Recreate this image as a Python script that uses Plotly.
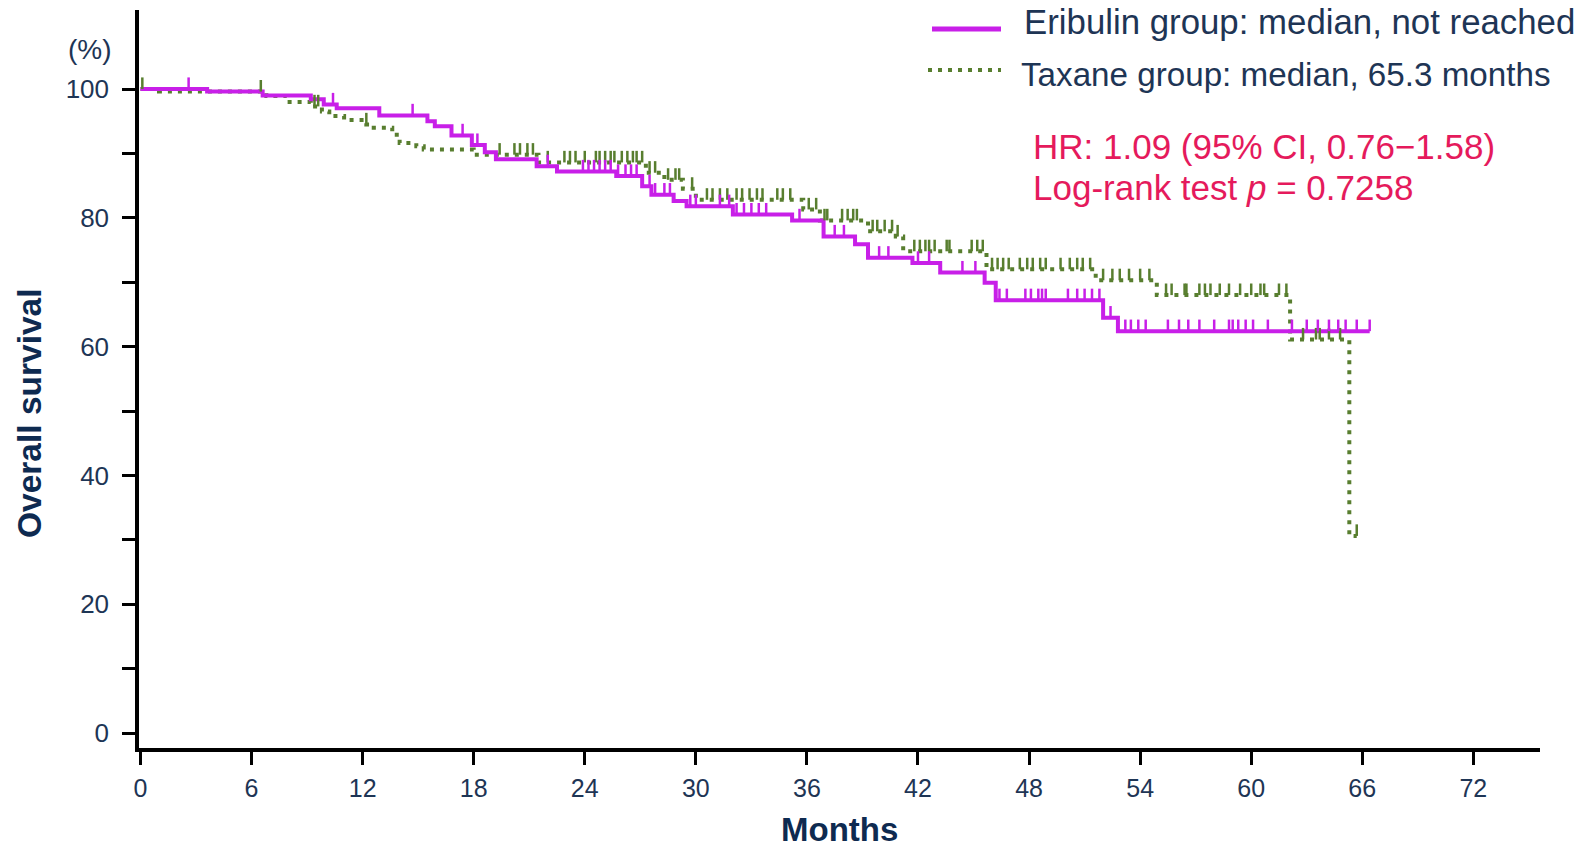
import numpy as np
import plotly.graph_objects as go

# Kaplan-Meier step estimates (months, % surviving after each event)
eri_times = [0, 3.6, 6.6, 9.2, 9.9, 10.6, 12.9, 15.5, 15.9, 16.8, 17.9, 18.6, 19.2,
             21.4, 22.5, 25.7, 27.1, 27.6, 28.8, 29.5, 32.0, 35.2, 36.9, 38.6, 39.3,
             41.7, 43.2, 45.6, 46.2, 52.0, 52.8]
eri_surv = [100, 99.6, 99.0, 98.4, 97.6, 97.0, 95.9, 95.0, 94.2, 92.8, 91.3, 90.2, 89.1,
            88.0, 87.2, 86.5, 84.9, 83.6, 82.6, 81.8, 80.5, 79.6, 77.1, 75.9, 73.8,
            73.0, 71.5, 69.9, 67.2, 64.5, 62.4]
eri_end = 66.4

tax_times = [0, 1.0, 6.8, 7.9, 9.2, 9.8, 10.2, 11.0, 12.2, 12.6, 13.6, 14.0, 14.9, 15.3,
             18.0, 21.5, 27.3, 28.3, 29.3, 30.0, 35.8, 36.7, 39.3, 40.8, 41.2, 45.7,
             51.6, 54.9, 62.1, 65.3]
tax_surv = [100, 99.6, 98.9, 98.0, 97.3, 96.5, 95.8, 95.2, 94.5, 94.0, 92.9, 91.6, 91.1, 90.6,
            89.8, 88.6, 87.0, 85.9, 84.5, 82.8, 81.3, 79.6, 77.9, 77.1, 74.8, 72.0,
            70.3, 68.0, 61.1, 30.6]
tax_end = 65.7

# Censoring times (months)
eri_censor = [2.6, 10.4, 14.7, 17.4, 18.2, 22.0, 23.9, 24.2, 24.5, 24.8, 25.1, 25.4, 25.8,
              26.2, 26.5, 26.8, 27.5, 27.8, 28.3, 28.6, 29.7, 30.0, 31.3, 31.8, 32.2, 32.6,
              33.0, 33.4, 33.8, 35.6, 37.5, 38.0, 39.9, 40.4, 42.0, 42.6, 44.4, 45.1, 46.4,
              46.8, 47.8, 48.1, 48.5, 48.7, 48.9, 50.1, 50.6, 51.0, 51.4, 51.8, 52.4, 53.2,
              53.5, 53.9, 54.3, 55.5, 56.1, 56.6, 57.2, 58.0, 58.8, 59.0, 59.3, 59.7, 60.1,
              60.9, 62.2, 63.0, 63.6, 64.2, 64.7, 65.1, 65.7, 66.4]
tax_censor = [0.1, 6.5, 9.4, 9.6, 12.2, 19.4, 20.2, 20.5, 20.9, 21.2, 22.0, 22.9, 23.2, 23.5,
              24.0, 24.6, 24.8, 25.1, 25.4, 25.6, 26.0, 26.3, 26.6, 26.8, 27.1, 27.5, 27.8,
              28.5, 28.9, 29.1, 29.8, 30.6, 30.9, 31.3, 31.7, 32.2, 32.5, 32.9, 33.3, 33.6,
              34.4, 34.7, 35.1, 36.1, 36.5, 36.95, 37.1, 37.9, 38.2, 38.5, 38.7, 39.55, 39.8,
              40.2, 40.6, 40.9, 41.8, 42.1, 42.4, 42.6, 42.9, 43.55, 43.7, 44.9, 45.2, 45.5,
              46.0, 46.3, 46.6, 46.9, 47.5, 47.9, 48.2, 48.6, 48.9, 49.7, 50.2, 50.6, 50.9,
              51.3, 52.0, 52.5, 52.9, 53.4, 54.0, 54.5, 55.4, 55.7, 56.4, 56.5, 57.2, 57.5,
              57.8, 58.3, 58.8, 59.4, 60.0, 60.5, 60.7, 61.5, 61.9, 62.8, 63.5, 63.7, 64.2,
              64.8, 65.7]

x_ticks = list(range(0, 73, 6))
y_ticks = list(range(0, 101, 10))
y_ticklabels = [str(v) if v % 20 == 0 else "" for v in y_ticks]

legend_labels = ["Eribulin group: median, not reached",
                 "Taxane group: median, 65.3 months"]
stat_lines = ["HR: 1.09 (95% CI, 0.76\u22121.58)", "Log-rank test <i>p</i> = 0.7258"]

PURPLE = "#C81FE8"
GREEN = "#587E2F"
NAVY = "#1E3555"
TITLE_NAVY = "#0E2A50"
RED = "#E51A5C"
FONT = "Liberation Sans, Arial, sans-serif"

# plot-area geometry in pixels (used to place decorations in paper space)
L, R, T, B = 139, 1540, 10, 748


def px(x):
    return (x - L) / (R - L)


def py(y):
    return (B - y) / (B - T)


def step_value(times, surv, t):
    idx = np.searchsorted(np.asarray(times), t, side="right") - 1
    return np.asarray(surv)[idx]


def censor_segments(times, surv, cens, h=1.8):
    xs, ys = [], []
    for c in cens:
        s = float(step_value(times, surv, c))
        xs += [c, c, None]
        ys += [s, s + h, None]
    return xs, ys


fig = go.Figure()

fig.add_trace(go.Scatter(
    x=tax_times + [tax_end], y=tax_surv + [tax_surv[-1]],
    mode="lines", line=dict(color=GREEN, width=4, shape="hv", dash="4px,6px"),
    hoverinfo="skip", showlegend=False))
fig.add_trace(go.Scatter(
    x=eri_times + [eri_end], y=eri_surv + [eri_surv[-1]],
    mode="lines", line=dict(color=PURPLE, width=4, shape="hv"),
    hoverinfo="skip", showlegend=False))

cx, cy = censor_segments(tax_times, tax_surv, tax_censor)
fig.add_trace(go.Scatter(x=cx, y=cy, mode="lines", line=dict(color=GREEN, width=2.5),
                         hoverinfo="skip", showlegend=False))
cx, cy = censor_segments(eri_times, eri_surv, eri_censor)
fig.add_trace(go.Scatter(x=cx, y=cy, mode="lines", line=dict(color=PURPLE, width=2.5),
                         hoverinfo="skip", showlegend=False))

axis_common = dict(showline=True, linecolor="black", linewidth=3.5, ticks="outside",
                   ticklen=13, tickwidth=3, tickcolor="black", showgrid=False,
                   zeroline=False)

fig.update_xaxes(range=[-0.08, 75.6], tickvals=x_ticks, ticklabelstandoff=2,
                 tickfont=dict(family=FONT, size=25, color=NAVY), **axis_common)
fig.update_yaxes(range=[-2.33, 112.27], tickvals=y_ticks, ticktext=y_ticklabels,
                 ticklabelstandoff=8, tickfont=dict(family=FONT, size=26, color=NAVY),
                 **axis_common)

annotations = [
    dict(text="<b>Months</b>", x=0.5, y=py(829),
         font=dict(family=FONT, size=33, color=TITLE_NAVY), xanchor="center", yanchor="middle"),
    dict(text="<b>Overall survival</b>", x=px(30), y=py(413), textangle=-90,
         font=dict(family=FONT, size=33.5, color=TITLE_NAVY), xanchor="center", yanchor="middle"),
    dict(text="(%)", x=px(90), y=py(49), font=dict(family=FONT, size=28, color=NAVY),
         xanchor="center", yanchor="middle"),
    dict(text=legend_labels[0], x=px(1022), y=py(21), font=dict(family=FONT, size=34.8, color=NAVY),
         xanchor="left", yanchor="middle"),
    dict(text=legend_labels[1], x=px(1019), y=py(74), font=dict(family=FONT, size=33.2, color=NAVY),
         xanchor="left", yanchor="middle"),
    dict(text=stat_lines[0], x=px(1031), y=py(147), font=dict(family=FONT, size=35, color=RED),
         xanchor="left", yanchor="middle"),
    dict(text=stat_lines[1], x=px(1031), y=py(188), font=dict(family=FONT, size=35, color=RED),
         xanchor="left", yanchor="middle"),
]
for a in annotations:
    a.update(xref="paper", yref="paper", showarrow=False)

shapes = [
    dict(type="line", xref="paper", yref="paper", x0=px(932), x1=px(1001), y0=py(29), y1=py(29),
         line=dict(color=PURPLE, width=5)),
    dict(type="line", xref="paper", yref="paper", x0=px(928), x1=px(1001), y0=py(70), y1=py(70),
         line=dict(color=GREEN, width=4, dash="4px,6px")),
]

fig.update_layout(
    width=1585, height=848,
    margin=dict(l=L, r=1585 - R, t=T, b=848 - B),
    paper_bgcolor="white", plot_bgcolor="white",
    annotations=annotations, shapes=shapes, showlegend=False,
)

fig.write_html("out.html")
